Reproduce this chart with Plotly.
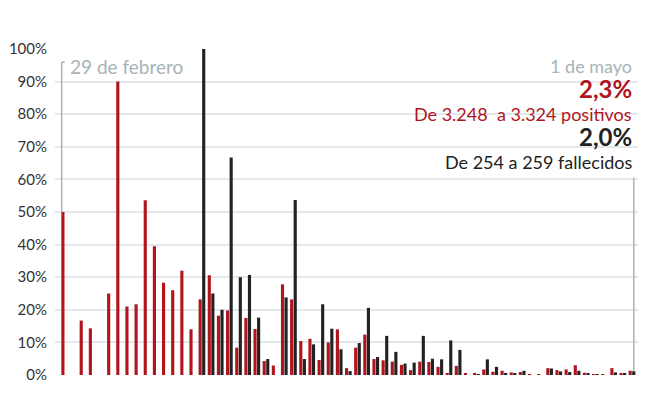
import pandas as pd
import plotly.graph_objects as go

RED = "#b0151d"
DARK = "#222222"
GREY = "#a6b3b8"
GRID = "#e2e8eb"
FONT = "Lato"

# daily % increase, 29 Feb -> 1 May
dates = pd.date_range("2020-02-29", "2020-05-01", freq="D").strftime("%d/%m").tolist()

positivos = [
    50.0, 0.0, 16.7, 14.3, 0.0, 25.0, 90.0, 21.0, 21.7, 53.6,
    39.5, 28.3, 26.0, 32.0, 14.0, 23.2, 30.6, 18.2, 19.8, 8.4,
    17.5, 14.1, 4.3, 2.9, 27.8, 23.2, 10.4, 11.1, 4.6, 10.0,
    14.0, 2.1, 8.4, 12.4, 4.9, 4.5, 4.1, 3.1, 1.5, 4.1,
    4.0, 2.5, 0.5, 2.8, 0.5, 0.4, 1.7, 1.0, 1.3, 0.8,
    0.9, 0.3, 0.2, 2.1, 1.5, 1.7, 3.0, 0.7, 0.2, 0.2,
    2.1, 0.6, 1.3,
]
fallecidos = [
    0.0, 0.0, 0.0, 0.0, 0.0, 0.0, 0.0, 0.0, 0.0, 0.0,
    0.0, 0.0, 0.0, 0.0, 0.0, 100.0, 25.0, 20.0, 66.7, 30.0,
    30.7, 17.6, 4.9, 0.0, 23.8, 53.7, 4.9, 9.4, 21.7, 14.2,
    7.9, 1.2, 9.8, 20.6, 5.5, 12.0, 7.1, 3.5, 3.8, 12.0,
    5.0, 4.8, 10.6, 7.7, 0.0, 0.3, 4.8, 2.5, 0.5, 0.5,
    1.3, 0.0, 0.0, 2.0, 1.1, 0.9, 1.3, 0.5, 0.2, 0.0,
    0.8, 0.5, 1.2,
]

fig = go.Figure()
fig.add_trace(go.Bar(x=dates, y=positivos, name="positivos",
                     marker=dict(color=RED, line=dict(width=0))))
fig.add_trace(go.Bar(x=dates, y=fallecidos, name="fallecidos",
                     marker=dict(color=DARK, line=dict(width=0))))

# page body adds an 8px margin, so the figure margins are pulled in by 8px
fig.update_layout(
    width=650, height=420,
    paper_bgcolor="white", plot_bgcolor="white",
    font=dict(family=FONT, color="#333333", size=15),
    margin=dict(l=47, r=20, t=41, b=53, autoexpand=False),
    barmode="group", bargap=0.22, bargroupgap=0.12,
    showlegend=False,
    xaxis=dict(type="category", range=[-1.06, 62.66], showticklabels=False,
               showgrid=False, zeroline=False, ticks="", automargin=False),
    yaxis=dict(range=[0, 100], dtick=10, ticksuffix="%", gridcolor=GRID,
               gridwidth=1.5, zeroline=False, showline=False, automargin=False,
               tickfont=dict(size=15, color="#333333"), ticklabelstandoff=7),
)

# left marker: 29 de febrero
fig.add_shape(type="line", xref="x", yref="y", x0=-0.33, x1=-0.33, y0=50, y1=96,
              line=dict(color=GREY, width=1.5))
fig.add_shape(type="line", xref="x", yref="y", x0=-0.33, x1=0.0, y0=96, y1=96,
              line=dict(color=GREY, width=1.5))
fig.add_annotation(text="29 de febrero", xref="x", yref="paper", x=0.35, y=0.945,
                   xanchor="left", yanchor="middle", showarrow=False,
                   font=dict(size=19, color=GREY))

# right marker: 1 de mayo
fig.add_shape(type="line", xref="x", yref="y", x0=62.2, x1=62.2, y0=1, y1=60.5,
              line=dict(color=GREY, width=1.5))
right_notes = [
    ("1 de mayo", 0.947, 18, GREY, False),
    ("2,3%", 0.879, 24, RED, True),
    ("De 3.248  a 3.324 positivos", 0.801, 18, RED, False),
    ("2,0%", 0.731, 24, DARK, True),
    ("De 254 a 259 fallecidos", 0.654, 18, DARK, False),
]
for text, y, size, color, bold in right_notes:
    fig.add_annotation(text=f"<b>{text}</b>" if bold else text,
                       xref="paper", yref="paper", x=0.993, y=y,
                       xanchor="right", yanchor="middle", showarrow=False,
                       font=dict(size=size, color=color))

fig.write_html("out.html")
